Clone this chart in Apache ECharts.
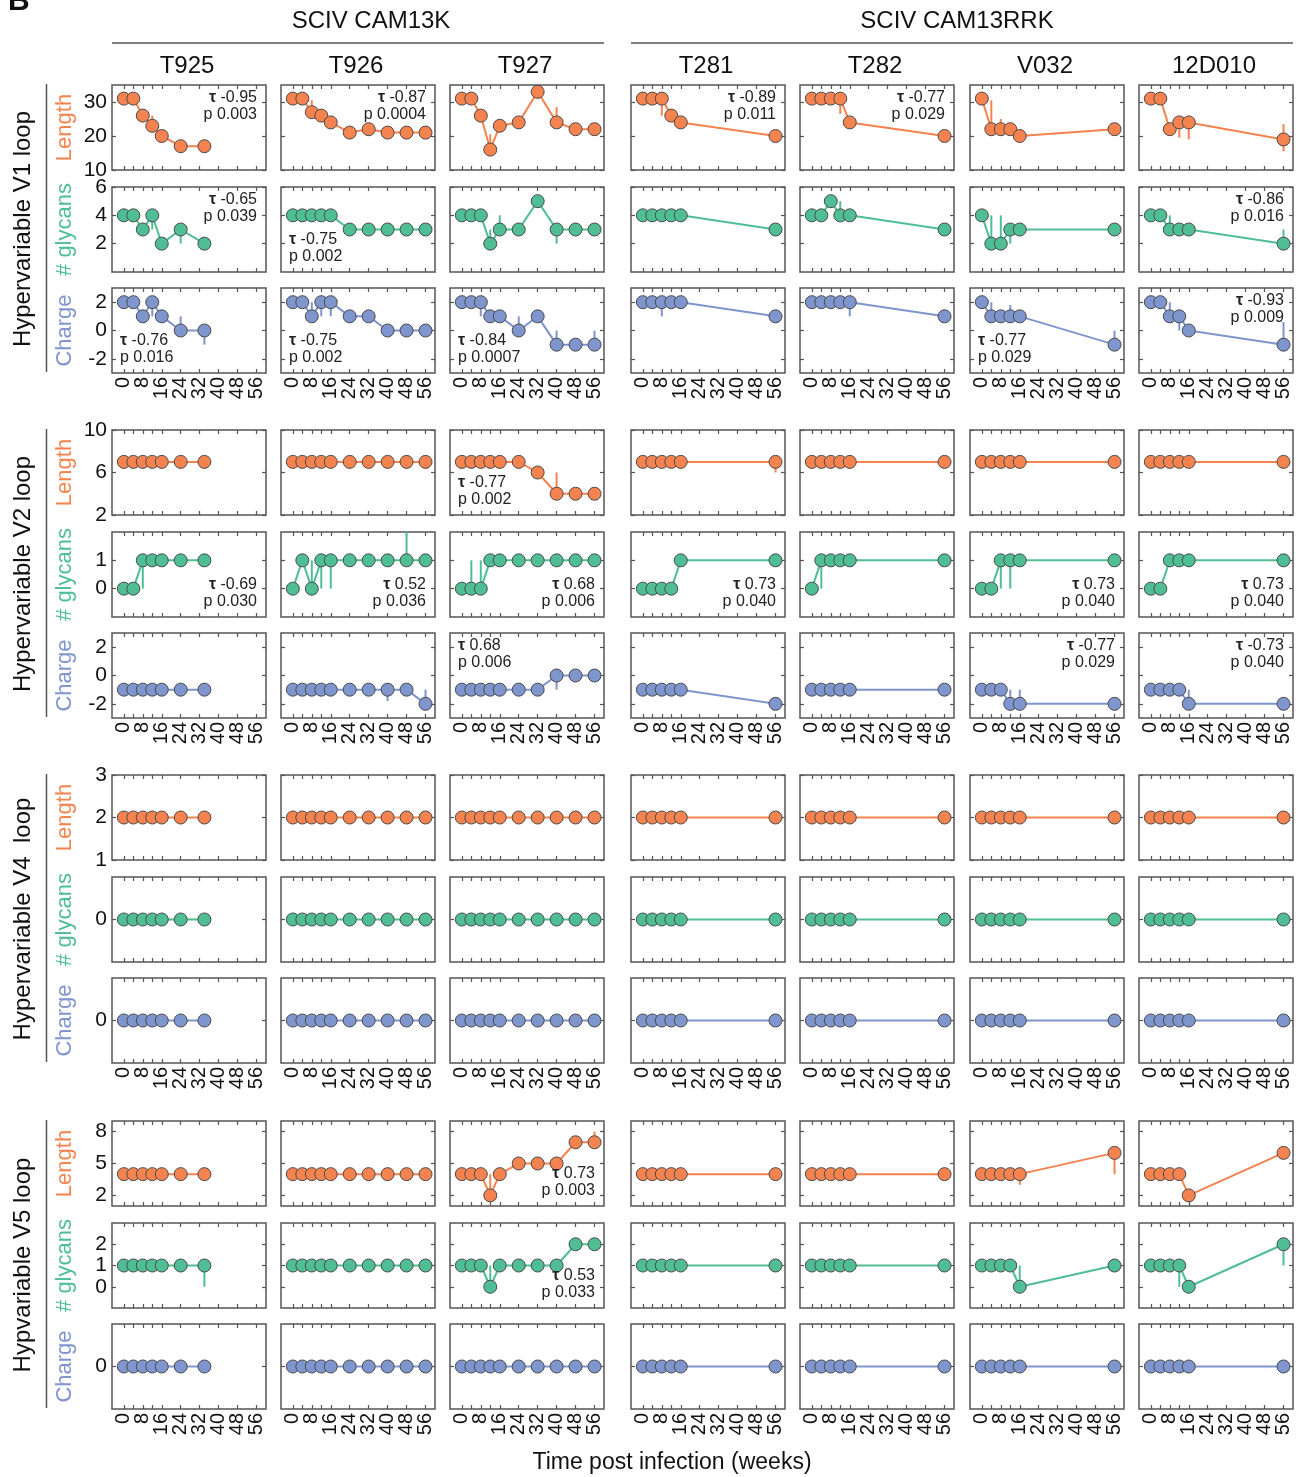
<!DOCTYPE html>
<html><head><meta charset="utf-8">
<script src="https://cdn.jsdelivr.net/npm/echarts@6/dist/echarts.min.js"></script>
<style>html,body{margin:0;padding:0;background:#fff}#c{width:1303px;height:1477px}</style>
</head><body><div id="c"></div>
<script>
// ---------- categories / labels ----------
const columns = ['T925','T926','T927','T281','T282','V032','12D010'];
const groupTitles = ['SCIV CAM13K','SCIV CAM13RRK'];
const blockLabels = ['Hypervariable V1 loop','Hypervariable V2 loop','Hypervariable V4  loop','Hypvariable V5 loop'];
const measureLabels = ['Length','# glycans','Charge'];
const xTitle = 'Time post infection (weeks)';

// ---------- sampling weeks ----------
const weeksT925 = [0,4,8,12,16,24,34];
const weeksK = [0,4,8,12,16,24,32,40,48,56];
const weeksRRK = [0,4,8,12,16,56];
const colWeeks = [weeksT925, weeksK, weeksK, weeksRRK, weeksRRK, weeksRRK, weeksRRK];
const xTickWeeks = [0,4,8,12,16,24,32,40,48,56];
const xLabelWeeksA = [0,16,32,48];
const xLabelWeeksB = [8,24,40,56];

// ---------- values (one inner array per animal, in column order) ----------
const v1Length = [
 [31,31,26,23,20,17,17],
 [31,31,27,26,24,21,22,21,21,21],
 [31,31,26,16,23,24,33,24,22,22],
 [31,31,31,26,24,20],
 [31,31,31,31,24,20],
 [31,22,22,22,20,22],
 [31,31,22,24,24,19]
];
const v1Glycans = [
 [4,4,3,4,2,3,2],
 [4,4,4,4,4,3,3,3,3,3],
 [4,4,4,2,3,3,5,3,3,3],
 [4,4,4,4,4,3],
 [4,4,5,4,4,3],
 [4,2,2,3,3,3],
 [4,4,3,3,3,2]
];
const v1Charge = [
 [2,2,1,2,1,0,0],
 [2,2,1,2,2,1,1,0,0,0],
 [2,2,2,1,1,0,1,-1,-1,-1],
 [2,2,2,2,2,1],
 [2,2,2,2,2,1],
 [2,1,1,1,1,-1],
 [2,2,1,1,0,-1]
];
const v2Length = [
 [7,7,7,7,7,7,7],
 [7,7,7,7,7,7,7,7,7,7],
 [7,7,7,7,7,7,6,4,4,4],
 [7,7,7,7,7,7],
 [7,7,7,7,7,7],
 [7,7,7,7,7,7],
 [7,7,7,7,7,7]
];
const v2Glycans = [
 [0,0,1,1,1,1,1],
 [0,1,0,1,1,1,1,1,1,1],
 [0,0,0,1,1,1,1,1,1,1],
 [0,0,0,0,1,1],
 [0,1,1,1,1,1],
 [0,0,1,1,1,1],
 [0,0,1,1,1,1]
];
const v2Charge = [
 [-1,-1,-1,-1,-1,-1,-1],
 [-1,-1,-1,-1,-1,-1,-1,-1,-1,-2],
 [-1,-1,-1,-1,-1,-1,-1,0,0,0],
 [-1,-1,-1,-1,-1,-2],
 [-1,-1,-1,-1,-1,-1],
 [-1,-1,-1,-2,-2,-2],
 [-1,-1,-1,-1,-2,-2]
];
const v4Length = [
 [2,2,2,2,2,2,2],
 [2,2,2,2,2,2,2,2,2,2],
 [2,2,2,2,2,2,2,2,2,2],
 [2,2,2,2,2,2],
 [2,2,2,2,2,2],
 [2,2,2,2,2,2],
 [2,2,2,2,2,2]
];
const v4Glycans = [
 [0,0,0,0,0,0,0],
 [0,0,0,0,0,0,0,0,0,0],
 [0,0,0,0,0,0,0,0,0,0],
 [0,0,0,0,0,0],
 [0,0,0,0,0,0],
 [0,0,0,0,0,0],
 [0,0,0,0,0,0]
];
const v4Charge = [
 [0,0,0,0,0,0,0],
 [0,0,0,0,0,0,0,0,0,0],
 [0,0,0,0,0,0,0,0,0,0],
 [0,0,0,0,0,0],
 [0,0,0,0,0,0],
 [0,0,0,0,0,0],
 [0,0,0,0,0,0]
];
const v5Length = [
 [4,4,4,4,4,4,4],
 [4,4,4,4,4,4,4,4,4,4],
 [4,4,4,2,4,5,5,5,7,7],
 [4,4,4,4,4,4],
 [4,4,4,4,4,4],
 [4,4,4,4,4,6],
 [4,4,4,4,2,6]
];
const v5Glycans = [
 [1,1,1,1,1,1,1],
 [1,1,1,1,1,1,1,1,1,1],
 [1,1,1,0,1,1,1,1,2,2],
 [1,1,1,1,1,1],
 [1,1,1,1,1,1],
 [1,1,1,1,0,1],
 [1,1,1,1,0,2]
];
const v5Charge = [
 [0,0,0,0,0,0,0],
 [0,0,0,0,0,0,0,0,0,0],
 [0,0,0,0,0,0,0,0,0,0],
 [0,0,0,0,0,0],
 [0,0,0,0,0,0],
 [0,0,0,0,0,0],
 [0,0,0,0,0,0]
];

// ---------- whiskers: [column, week, low, high] ----------
const v1LengthErr = [[0,12,23,26],[1,8,27,30.5],[2,12,16,20.5],[2,32,33,34.5],[2,40,24,28.5],[3,8,26,31],[4,12,26.5,31],[5,4,20.5,30.5],[5,8,20,25],[5,16,18.5,20],[6,12,19.5,24],[6,16,19,24],[6,56,15.5,23.5]];
const v1GlycansErr = [[0,12,3,4],[0,24,2,3],[2,12,2,3],[2,16,3,4],[2,40,2,3],[4,12,4,5],[5,4,2,4],[5,8,2,4],[5,12,2,3],[6,8,3,4],[6,56,2,3]];
const v1ChargeErr = [[0,12,1,2],[0,24,0,1],[0,34,-1,0],[1,8,1,2],[1,12,1,2],[1,16,1,2],[2,8,1,2],[2,24,0,1],[2,40,-1,0],[2,56,-1,0],[3,8,1,2],[4,16,1,2],[5,4,1,2],[5,12,1,1.8],[5,56,-1,0],[6,8,1,2],[6,12,0,1],[6,56,-1,0.6]];
const v2LengthErr = [[2,40,4,6],[3,56,6,7]];
const v2GlycansErr = [[0,8,0,1],[1,8,0,1],[1,12,0,1],[1,16,0,1],[1,48,1,2],[2,4,0,1],[2,8,0,1],[4,4,0,1],[5,8,0,1],[5,12,0,1]];
const v2ChargeErr = [[1,40,-1.8,-1],[1,56,-2,-1],[2,40,-1,0],[5,12,-2,-1],[5,16,-2,-1],[6,16,-2,-1]];
const v4LengthErr = [];
const v4GlycansErr = [];
const v4ChargeErr = [];
const v5LengthErr = [[2,12,2,4],[2,56,7,8],[5,16,3,4],[5,56,4,6]];
const v5GlycansErr = [[0,34,0,1],[2,12,0,1],[5,16,0.3,1],[6,12,0,1],[6,56,1,2]];
const v5ChargeErr = [];

// ---------- y axes per row ----------
const yMin = [10,0,-3, 2,-1,-3, 1,-1,-1, 1,-1,-1];
const yMax = [35,6,3, 10,2,3, 3,1,1, 9,3,1];
const yTicks = [[10,20,30],[2,4,6],[-2,0,2],[2,6,10],[0,1],[-2,0,2],[1,2,3],[0],[0],[2,5,8],[0,1,2],[0]];

// ---------- Kendall tau annotations: [row, column, tau, p, corner] ----------
const annotations = [
 [0,0,'-0.95','0.003','tr'],[0,1,'-0.87','0.0004','tr'],[0,3,'-0.89','0.011','tr'],[0,4,'-0.77','0.029','tr'],
 [1,0,'-0.65','0.039','tr'],[1,1,'-0.75','0.002','bl'],[1,6,'-0.86','0.016','tr'],
 [2,0,'-0.76','0.016','bl'],[2,1,'-0.75','0.002','bl'],[2,2,'-0.84','0.0007','bl'],[2,5,'-0.77','0.029','bl'],[2,6,'-0.93','0.009','tr'],
 [3,2,'-0.77','0.002','bl'],
 [4,0,'-0.69','0.030','br'],[4,1,'0.52','0.036','br'],[4,2,'0.68','0.006','br'],[4,3,'0.73','0.040','br'],[4,5,'0.73','0.040','br'],[4,6,'0.73','0.040','br'],
 [5,2,'0.68','0.006','tl'],[5,5,'-0.77','0.029','tr'],[5,6,'-0.73','0.040','tr'],
 [9,2,'0.73','0.003','br'],
 [10,2,'0.53','0.033','br']
];

const rowValues = [v1Length,v1Glycans,v1Charge,v2Length,v2Glycans,v2Charge,v4Length,v4Glycans,v4Charge,v5Length,v5Glycans,v5Charge];
const rowErrs = [v1LengthErr,v1GlycansErr,v1ChargeErr,v2LengthErr,v2GlycansErr,v2ChargeErr,v4LengthErr,v4GlycansErr,v4ChargeErr,v5LengthErr,v5GlycansErr,v5ChargeErr];

// ---------- layout / style ----------
const FONT = '"Liberation Sans", Arial, Helvetica, sans-serif';
const COLORS = ['#F5834F','#50BE95','#7F95CD'];
const colLeft = [112,281,450,631,800,970,1139];
const blockTop = [85,430,775,1121];
const subOffset = [0,102,203];
const W = 154, H = 85;
const FRAME = '#555';

const grids=[], xAxes=[], yAxes=[], series=[], graphics=[], extraX=[];

for (let r=0;r<12;r++){
  const b=Math.floor(r/3), m=r%3;
  const top=blockTop[b]+subOffset[m];
  const color=COLORS[m];
  for (let c=0;c<7;c++){
    const g=r*7+c;
    grids.push({left:colLeft[c], top:top, width:W, height:H, show:true, borderColor:FRAME, borderWidth:1.5, backgroundColor:'transparent'});
    const tick = {show:true, inside:true, length:4, lineStyle:{color:FRAME, width:1.2}};
    const line = {show:false, onZero:false};
    const xLab = {rotate:90, interval:0, showMinLabel:true, showMaxLabel:true, hideOverlap:false,
        fontSize:20, color:'#111', fontFamily:FONT, margin:4};
    xAxes.push({type:'value', gridIndex:g, position:'bottom', min:-5, max:60,
      axisLine:line, splitLine:{show:false},
      axisTick:Object.assign({customValues:xTickWeeks}, tick),
      axisLabel:Object.assign({show:m===2, customValues:xLabelWeeksA}, xLab)});
    xAxes.push({type:'value', gridIndex:g, position:'top', min:-5, max:60,
      axisLine:line, splitLine:{show:false},
      axisTick:Object.assign({customValues:xTickWeeks}, tick),
      axisLabel:{show:false}});
    if (m===2){
      extraX.push({type:'value', gridIndex:g, position:'bottom', offset:0, min:-5, max:60,
        axisLine:line, splitLine:{show:false}, axisTick:{show:false},
        axisLabel:Object.assign({show:true, customValues:xLabelWeeksB}, xLab)});
    }
    yAxes.push({type:'value', gridIndex:g, position:'left', min:yMin[r], max:yMax[r],
      axisLine:line, splitLine:{show:false},
      axisTick:Object.assign({customValues:yTicks[r]}, tick),
      axisLabel:{show:c===0, interval:0, showMinLabel:true, showMaxLabel:true, hideOverlap:false,
        customValues:yTicks[r], fontSize:21, color:'#111', fontFamily:FONT, margin:5}});
    yAxes.push({type:'value', gridIndex:g, position:'right', min:yMin[r], max:yMax[r],
      axisLine:line, splitLine:{show:false},
      axisTick:Object.assign({customValues:yTicks[r]}, tick),
      axisLabel:{show:false}});

    const weeks=colWeeks[c], vals=rowValues[r][c];
    const errs=rowErrs[r].filter(e=>e[0]===c).map(e=>[e[1],e[2],e[3]]);
    if (errs.length){
      series.push({type:'custom', xAxisIndex:2*g, yAxisIndex:2*g, z:2, silent:true,
        data:errs, encode:{x:0,y:[1,2]},
        renderItem:function(params,api){
          const p1=api.coord([api.value(0),api.value(1)]);
          const p2=api.coord([api.value(0),api.value(2)]);
          return {type:'line', shape:{x1:p1[0],y1:p1[1],x2:p2[0],y2:p2[1]}, style:{stroke:color, lineWidth:2}};
        }});
    }
    series.push({type:'line', xAxisIndex:2*g, yAxisIndex:2*g, z:3,
      data:weeks.map((w,i)=>[w,vals[i]]),
      symbol:'circle', symbolSize:13, showAllSymbol:true,
      lineStyle:{color:color, width:2},
      itemStyle:{color:color, borderColor:'#4a4a4a', borderWidth:1},
      emphasis:{disabled:true}});
  }
}
const allX = xAxes.concat(extraX);

// panel letter (clipped at the top)
graphics.push({type:'text', x:8, y:2, style:{text:'B', fontSize:30, fontWeight:'bold', fontFamily:FONT, fill:'#111', verticalAlign:'middle'}});
// group titles + rules
const groupCenters=[371,957], groupLines=[[112,604],[631,1293]];
groupTitles.forEach((t,i)=>{
  graphics.push({type:'text', x:groupCenters[i], y:21, style:{text:t, fontSize:24, fontFamily:FONT, fill:'#111', align:'center', verticalAlign:'middle'}});
  graphics.push({type:'line', shape:{x1:groupLines[i][0], y1:43, x2:groupLines[i][1], y2:43}, style:{stroke:'#555', lineWidth:1.5}});
});
// column headers
columns.forEach((t,c)=>{
  graphics.push({type:'text', x:colLeft[c]+W/2-2, y:66, style:{text:t, fontSize:24, fontFamily:FONT, fill:'#111', align:'center', verticalAlign:'middle'}});
});
// block labels, brackets, measure labels
blockLabels.forEach((t,b)=>{
  const top=blockTop[b];
  graphics.push({type:'text', x:23, y:top+144, rotation:Math.PI/2, style:{text:t, fontSize:24, fontFamily:FONT, fill:'#111', align:'center', verticalAlign:'middle'}});
  graphics.push({type:'line', shape:{x1:46.5, y1:top-1, x2:46.5, y2:top+287}, style:{stroke:'#555', lineWidth:1.5}});
  measureLabels.forEach((ml,m)=>{
    graphics.push({type:'text', x:65, y:top+subOffset[m]+H/2, rotation:Math.PI/2, style:{text:ml, fontSize:22, fontFamily:FONT, fill:COLORS[m], align:'center', verticalAlign:'middle'}});
  });
});
// annotations
annotations.forEach(a=>{
  const r=a[0], c=a[1], pos=a[4];
  const b=Math.floor(r/3), m=r%3;
  const top=blockTop[b]+subOffset[m], left=colLeft[c];
  const isRight=pos[1]==='r', isTop=pos[0]==='t';
  graphics.push({type:'text', z:100,
    x: isRight ? left+W-9 : left+8,
    y: isTop ? top+4 : top+H-7,
    style:{text:'{t|τ} '+a[2]+'\np '+a[3], align:isRight?'right':'left', verticalAlign:isTop?'top':'bottom',
      fontSize:16, fontFamily:FONT, lineHeight:17, fill:'#222',
      rich:{t:{fontWeight:'bold', fontSize:16, fontFamily:FONT, lineHeight:17, fill:'#222'}}}});
});
// x title
graphics.push({type:'text', x:672, y:1463, style:{text:xTitle, fontSize:23, fontFamily:FONT, fill:'#111', align:'center', verticalAlign:'middle'}});

const chart = echarts.init(document.getElementById('c'), null, {renderer:'canvas', width:1303, height:1477});
chart.setOption({
  animation:false,
  backgroundColor:'#fff',
  grid:grids, xAxis:allX, yAxis:yAxes, series:series,
  graphic:{elements:graphics}
});
</script>
</body></html>
